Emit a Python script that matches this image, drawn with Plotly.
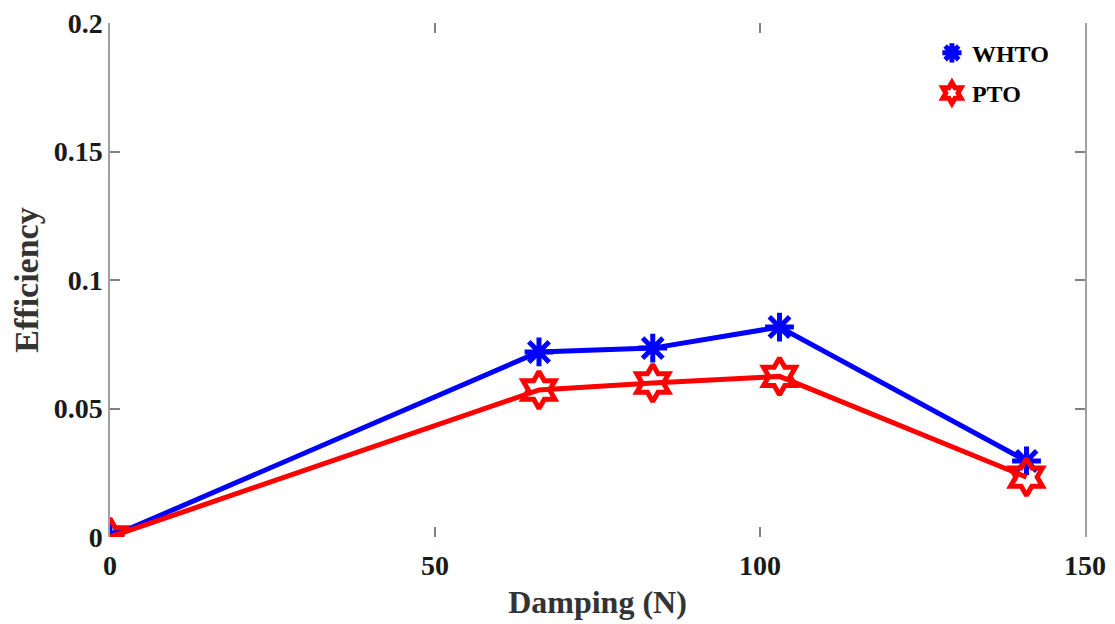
import plotly.graph_objects as go

damping = [0, 66, 83.5, 103, 141]
whto = [0, 0.072, 0.0735, 0.0817, 0.0296]
pto = [0, 0.0572, 0.0599, 0.0625, 0.0233]
x_ticks = [0, 50, 100, 150]
y_ticks = [0, 0.05, 0.1, 0.15, 0.2]
y_tick_text = ["0", "0.05", "0.1", "0.15", "0.2"]

font_family = "Liberation Serif"
blue = "#0000ff"
red = "#ff0000"

whto_marker = dict(symbol="asterisk-open", size=24, color=blue, line=dict(color=blue, width=5))
pto_marker = dict(symbol="hexagram-open", size=28, color=red, line=dict(color=red, width=5))

fig = go.Figure()
fig.add_trace(go.Scatter(x=damping, y=whto, name="WHTO", mode="lines+markers",
                         line=dict(color=blue, width=5), marker=whto_marker, showlegend=False))
fig.add_trace(go.Scatter(x=damping, y=pto, name="PTO", mode="lines+markers",
                         line=dict(color=red, width=5), marker=pto_marker, showlegend=False))
# legend entries (marker only, as in the reference)
fig.add_trace(go.Scatter(x=[None], y=[None], name="WHTO", mode="markers", legendgroup="a",
                         marker=dict(whto_marker, size=24)))
fig.add_trace(go.Scatter(x=[None], y=[None], name="PTO", mode="markers", legendgroup="b",
                         marker=dict(pto_marker, size=26)))

fig.update_layout(
    width=1115, height=624,
    margin=dict(l=102, r=38, t=15, b=95),
    paper_bgcolor="white", plot_bgcolor="white",
    font=dict(family=font_family, size=22, color="#1a1a1a"),
    showlegend=True,
    legend=dict(x=0.843, y=0.985, xanchor="left", yanchor="top",
                bgcolor="rgba(0,0,0,0)",
                font=dict(family=font_family, size=24, color="black", weight="bold"),
                itemsizing="trace", itemwidth=30, tracegroupgap=6),
    xaxis=dict(
        range=[0, 150], tickvals=x_ticks, ticks="inside", ticklen=10,
        tickcolor="#808080", tickwidth=1.5, showline=False, mirror="ticks",
        showgrid=False, zeroline=False, automargin=False, ticklabelstandoff=9,
        ticklabeloverflow="allow",
        tickfont=dict(family=font_family, size=28, color="#1a1a1a", weight="bold"),
        title=dict(text="Damping (N)", standoff=10,
                   font=dict(family=font_family, size=32, color="#333333", weight="bold")),
    ),
    yaxis=dict(
        range=[0, 0.2], tickvals=y_ticks, ticktext=y_tick_text, ticks="inside", ticklen=10,
        tickcolor="#808080", tickwidth=1.5, showline=True, linecolor="#a0a0a0", linewidth=1.5,
        mirror="ticks", showgrid=False, zeroline=False, automargin=False,
        ticklabeloverflow="allow",
        tickfont=dict(family=font_family, size=28, color="#1a1a1a", weight="bold"),
        title=dict(text="Efficiency", standoff=14,
                   font=dict(family=font_family, size=34, color="#333333", weight="bold")),
    ),
)

fig.write_html("out.html")
